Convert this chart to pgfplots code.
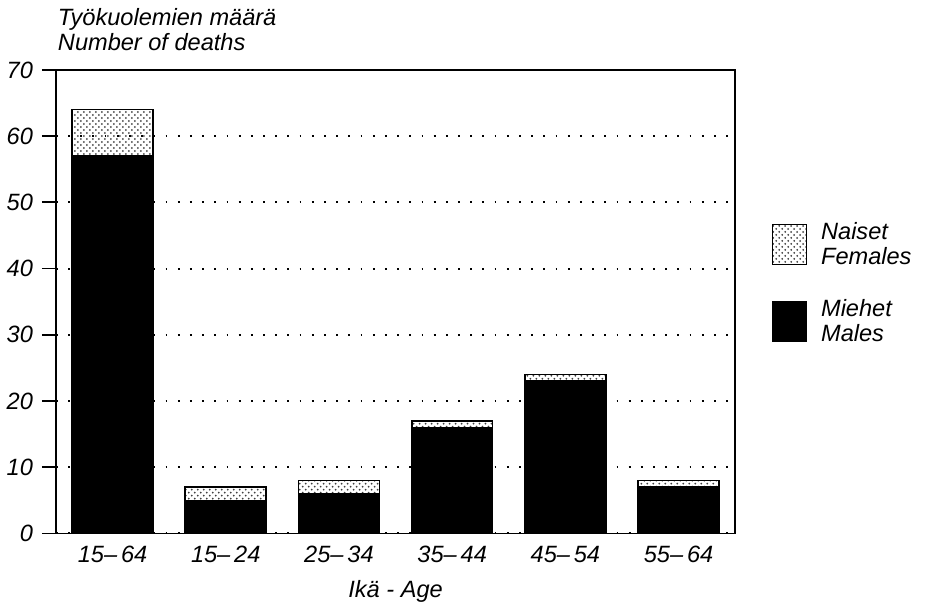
\documentclass[border=0pt]{standalone}
\usepackage{fontspec}
\setmainfont{Liberation Sans}
\usepackage{pgfplots}
\pgfplotsset{compat=1.18}
\usetikzlibrary{patterns}

\begin{document}
\begin{tikzpicture}[font=\fontsize{11.8}{12.5}\selectfont\itshape]
	\path (-27.5pt,-35.5pt) rectangle (437.5pt,267pt);
	\begin{axis}[
		scale only axis,
		width=340pt, height=232pt,
		ybar stacked,
		bar width=40.5pt,
		xmin=-0.5, xmax=5.5,
		ymin=0, ymax=70,
		xtick={0,1,2,3,4,5},
		xticklabels={15--\,64, 15--\,24, 25--\,34, 35--\,44, 45--\,54, 55--\,64},
		ytick={0,10,...,70},
		ytick pos=left,
		/pgf/number format/assume math mode=true,
		ticklabel style={font=\fontsize{11.8}{12.5}\selectfont\itshape},
		x tick style={draw=none},
		xticklabel style={yshift=4pt},
		yticklabel style={xshift=-1pt},
		y tick style={line width=0.9pt, black},
		tick align=outside,
		major tick length=7pt,
		axis line style={line width=0.9pt},
		ymajorgrids,
		major grid style={black, line width=1pt, dash pattern=on 0.9pt off 5.2pt},
		xlabel={Ikä - Age},
		xlabel style={yshift=-2pt},
		ylabel={Työkuolemien määrä\\Number of deaths},
		ylabel style={rotate=-90, at={(rel axis cs:0,1)}, anchor=south west, align=left, xshift=-2.5pt, yshift=6pt},
		legend style={at={(1,0.54)}, anchor=west, xshift=15pt, draw=none, fill=none,
			font=\fontsize{11.8}{12.5}\selectfont\itshape,
			cells={anchor=west, align=left}, row sep=12pt,
			/tikz/every odd column/.append style={column sep=5pt}},
		legend image code/.code={\draw[#1, line width=0.8pt] (0pt,-10pt) rectangle (17pt,10pt);},
		reverse legend,
		]
		\addplot[fill=black, draw=black, line width=0.8pt] coordinates {(0,57) (1,5) (2,6) (3,16) (4,23) (5,7)};
		\addplot[pattern=crosshatch dots, pattern color=black!75, draw=black, line width=0.8pt] coordinates {(0,7) (1,2) (2,2) (3,1) (4,1) (5,1)};
		\legend{Miehet\\Males, Naiset\\Females}
	\end{axis}
\end{tikzpicture}
\end{document}
